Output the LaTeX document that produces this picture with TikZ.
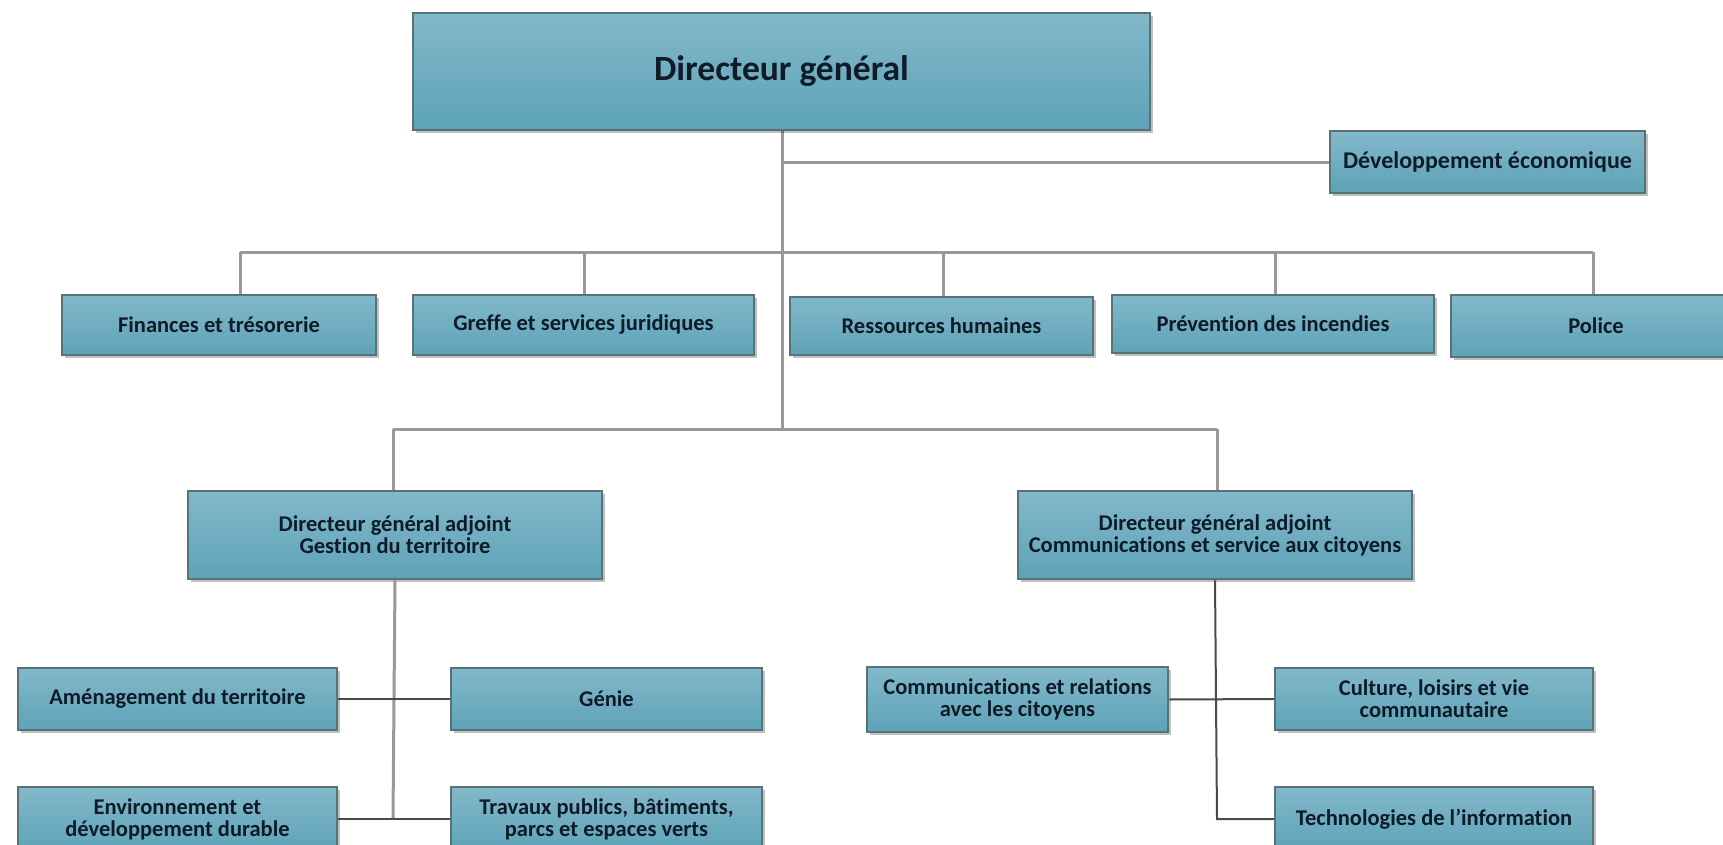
\documentclass[tikz,border=0pt]{standalone}
\usepackage{fontspec}
\setmainfont{Carlito}[Ligatures=NoCommon]
\usetikzlibrary{shadows}
\definecolor{boxtop}{HTML}{82B8C9}
\definecolor{boxbot}{HTML}{5EA3B8}
\definecolor{boxline}{HTML}{587378}
\definecolor{txt}{HTML}{0F1B28}
\definecolor{lgrey}{HTML}{9A9A92}
\definecolor{dgrey}{HTML}{4A4A46}
\tikzset{
  orgbox/.style={draw=boxline, line width=2.5pt, top color=boxtop, bottom color=boxbot,
    text=txt, font=\bfseries\fontsize{22.5}{22}\selectfont, align=center, inner sep=0pt,
    drop shadow={shadow xshift=3pt, shadow yshift=-3pt, fill=black, opacity=0.25}},
  bigbox/.style={orgbox, font=\bfseries\fontsize{35.5}{40}\selectfont},
  upline/.style={draw=lgrey, line width=3pt},
  lowline/.style={draw=dgrey, line width=2pt},
}
\begin{document}
\begin{tikzpicture}[x=1pt,y=-1pt]
\useasboundingbox (0,0) rectangle (1723,845);
\clip (0,0) rectangle (1723,845);
\fill[white] (0,0) rectangle (1723,845);
% coordinates for the bus
\coordinate (spA) at (782,163);
\coordinate (bus) at (782,252);
\coordinate (bL) at (240,252);
\coordinate (bG) at (584,252);
\coordinate (bR) at (943,252);
\coordinate (bP) at (1275,252);
\coordinate (bO) at (1593,252);
\coordinate (sp2) at (782,429);
\coordinate (d1) at (393,429);
\coordinate (d2) at (1217,429);
\coordinate (e1) at (393,819);
\coordinate (e2) at (1217,819);
% lines first
\draw[upline] (782,130) coordinate (topb) -- (sp2);
\draw[upline] (spA) -- (1330,163);
\draw[upline] (bL) -- (bO);
\draw[upline] (bL) -- (240,295);
\draw[upline] (bG) -- (584,295);
\draw[upline] (bR) -- (943,297);
\draw[upline] (bP) -- (1275,295);
\draw[upline] (bO) -- (1593,295);
\draw[upline] (d1) -- (d2);
\draw[upline] (d1) -- (393,491);
\draw[upline] (d2) -- (1217,491);
% nodes
\node[bigbox, minimum width=737pt, minimum height=117pt] (top) at (781.5,71.5) {Directeur général};
\node[orgbox, minimum width=315pt, minimum height=62pt, font=\bfseries\fontsize{24}{26}\selectfont] (dev) at (1487.5,162) {Développement économique};
\node[orgbox, minimum width=314pt, minimum height=60pt] (fin) at (219,325) {Finances et trésorerie};
\node[orgbox, minimum width=341pt, minimum height=60pt] (gre) at (583.5,325) {Greffe et services juridiques};
\node[orgbox, minimum width=303pt, minimum height=58pt] (rh) at (941.5,326) {Ressources humaines};
\node[orgbox, minimum width=322pt, minimum height=58pt] (prev) at (1273,324) {Prévention des incendies};
\node[orgbox, minimum width=290pt, minimum height=62pt] (pol) at (1596,326) {Police};
\node[orgbox, minimum width=414pt, minimum height=88pt] (dga1) at (395,535) {Directeur général adjoint\\Gestion du territoire};
\node[orgbox, minimum width=394pt, minimum height=88pt] (dga2) at (1215,535) {Directeur général adjoint\\Communications et service aux citoyens};
\node[orgbox, minimum width=319pt, minimum height=62pt] (amen) at (177.5,699) {Aménagement du territoire};
\node[orgbox, minimum width=311pt, minimum height=62pt] (genie) at (606.5,699) {Génie};
\node[orgbox, minimum width=319pt, minimum height=64pt] (env) at (177.5,819) {Environnement et\\développement durable};
\node[orgbox, minimum width=311pt, minimum height=64pt] (trav) at (606.5,819) {Travaux publics, bâtiments,\\parcs et espaces verts};
\node[orgbox, minimum width=301pt, minimum height=65pt] (comm) at (1017.5,699.5) {Communications et relations\\avec les citoyens};
\node[orgbox, minimum width=318pt, minimum height=62pt] (cult) at (1434,699) {Culture, loisirs et vie\\communautaire};
\node[orgbox, minimum width=318pt, minimum height=64pt] (tech) at (1434,819) {Technologies de l’information};
% lower connectors
\draw[upline] (dga1.south) -- (e1);
\draw[lowline] (amen.east) -- (genie.west);
\draw[lowline] (env.east) -- (trav.west);
\draw[lowline] (dga2.south) -- (e2) -- (tech.west);
\draw[lowline] (comm.east) -- (cult.west);
\end{tikzpicture}
\end{document}
